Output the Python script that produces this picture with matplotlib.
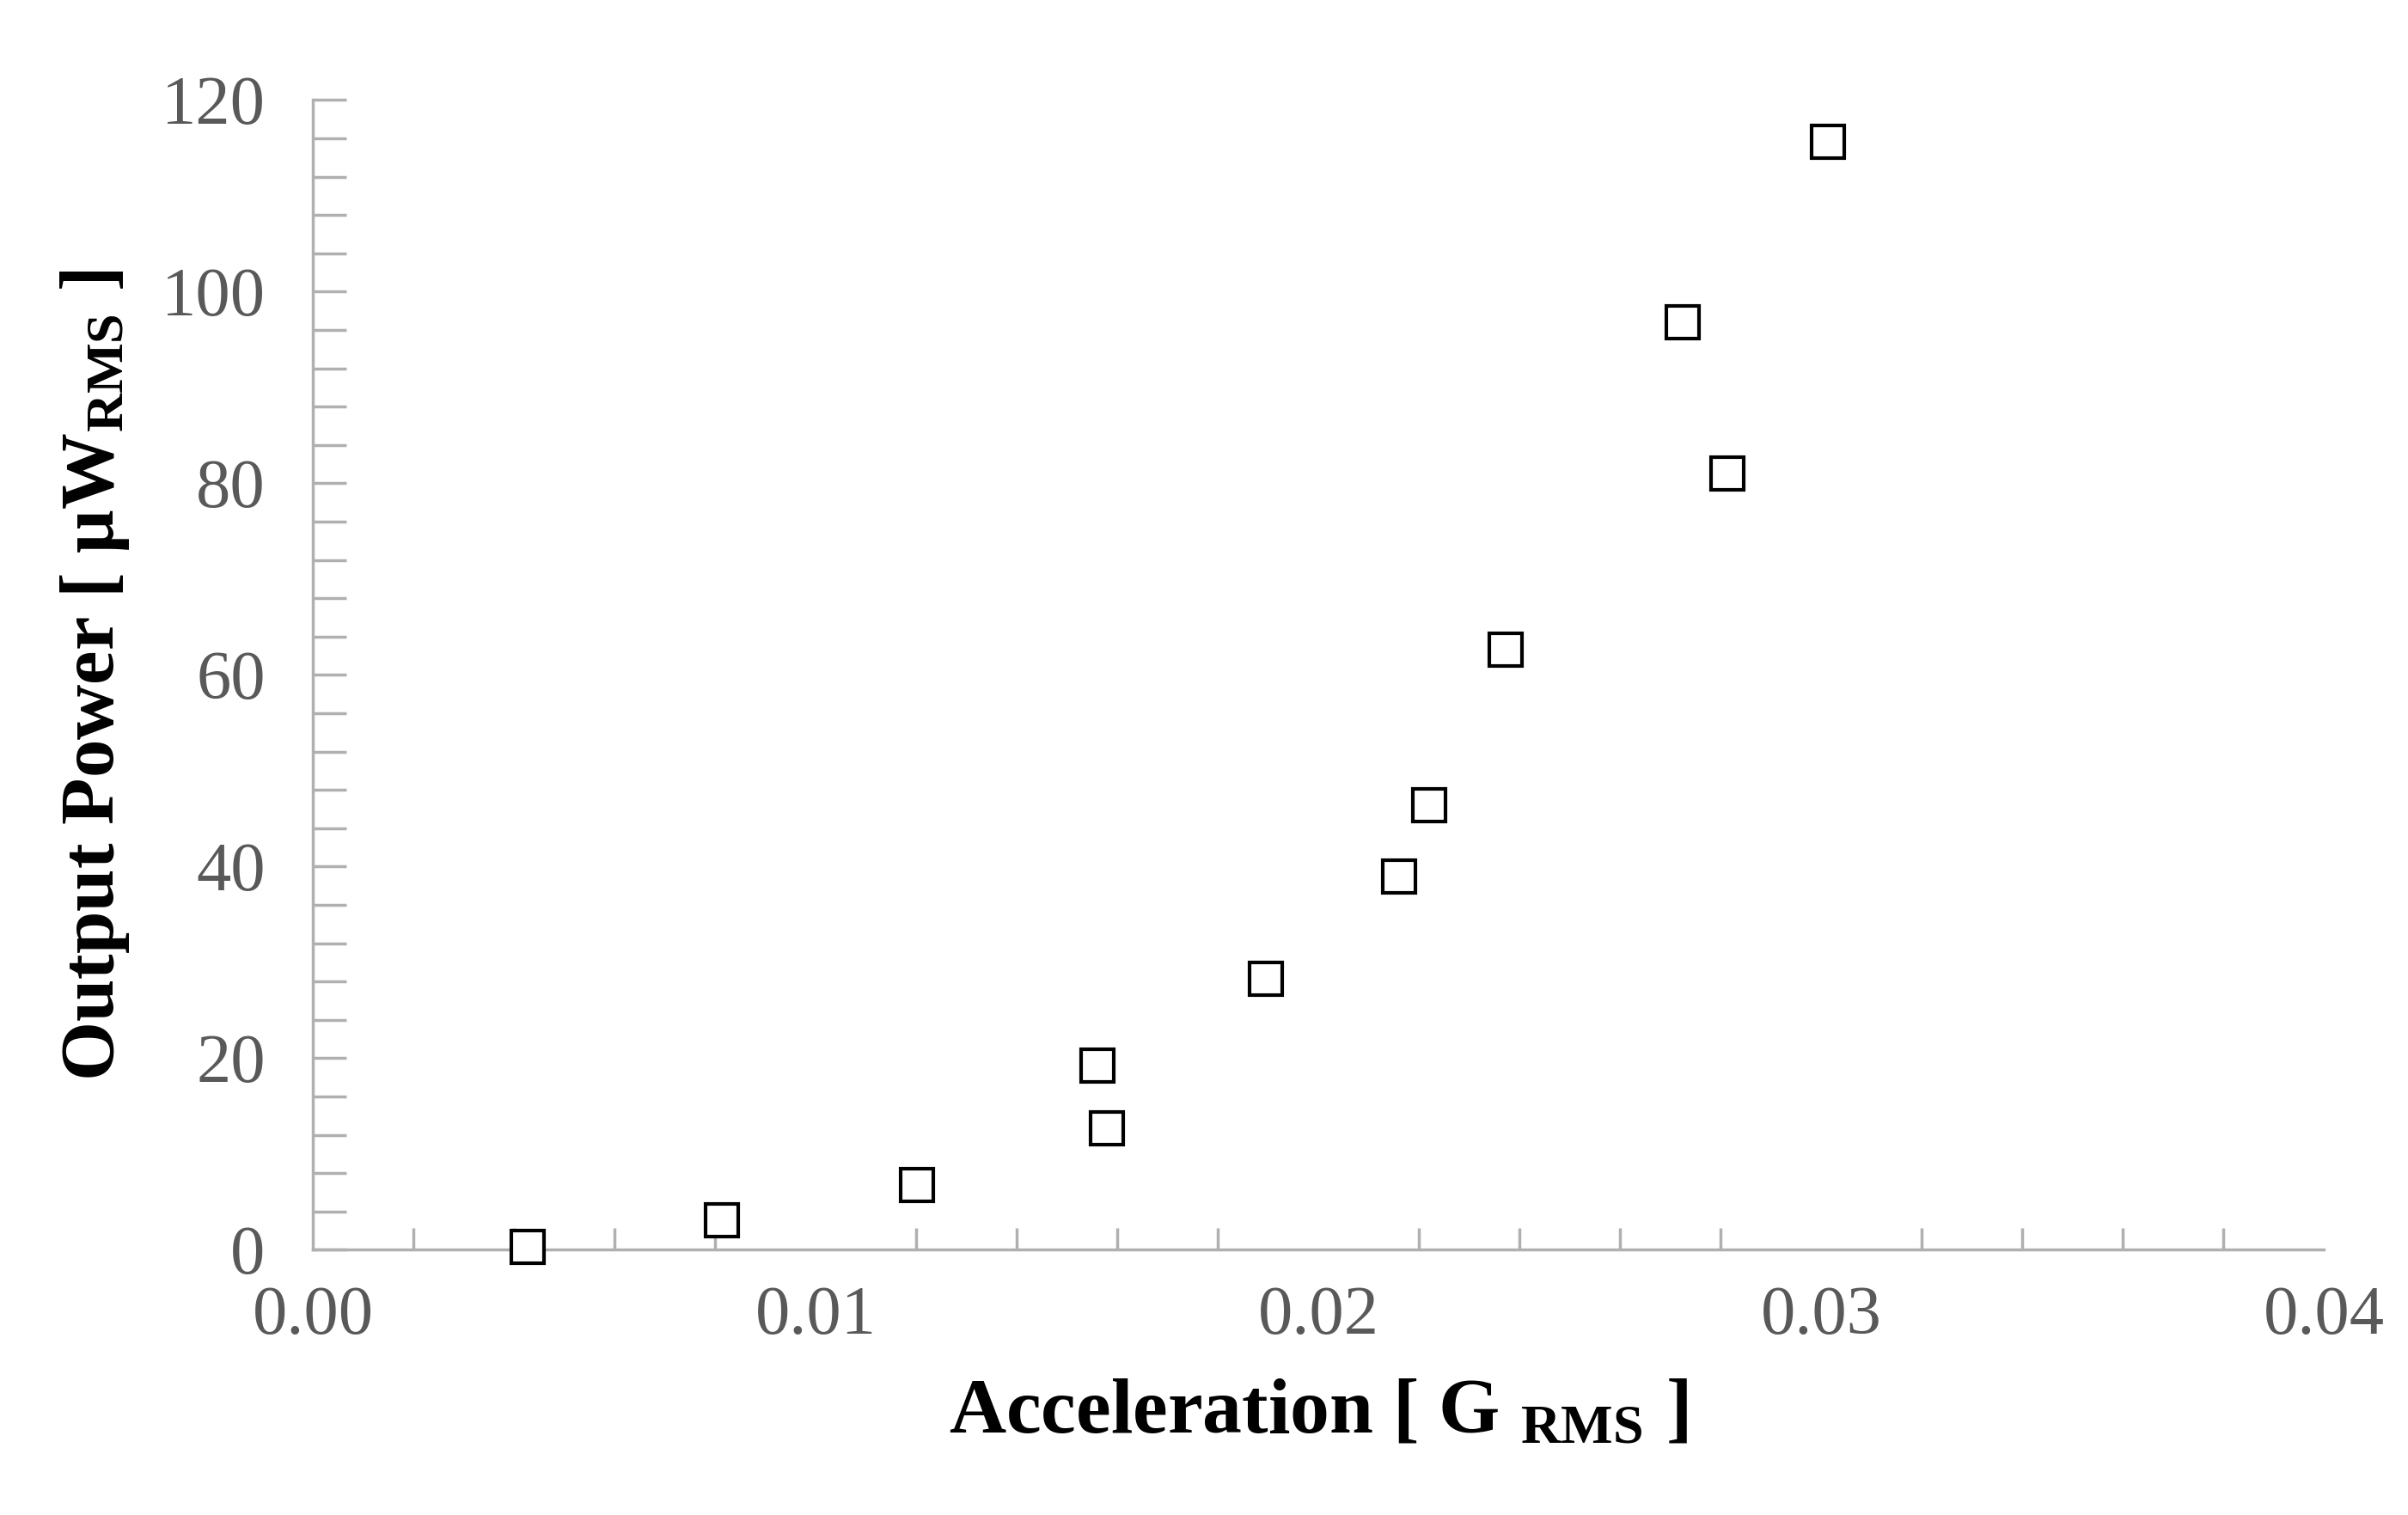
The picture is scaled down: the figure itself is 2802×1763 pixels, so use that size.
import matplotlib
matplotlib.use("Agg")
import matplotlib.pyplot as plt
from matplotlib.ticker import MultipleLocator

accel = [0.00427, 0.00814, 0.01201, 0.01561, 0.01579, 0.01896, 0.0216, 0.02221, 0.02372, 0.02725, 0.02814, 0.03014]
power = [0.3, 3.1, 6.8, 19.2, 12.7, 28.3, 39.0, 46.4, 62.6, 96.8, 81.0, 115.6]
xticks = [0.00, 0.01, 0.02, 0.03, 0.04]
yticks = [0, 20, 40, 60, 80, 100, 120]

plt.rcParams['font.family'] = ['Liberation Serif', 'DejaVu Serif']
plt.rcParams['mathtext.fontset'] = 'stix'

fig = plt.figure(figsize=(28.02, 17.63), dpi=100)
ax = fig.add_axes([0.130, 0.175, 0.835, 0.759])
ax.plot(accel, power, linestyle='none', marker='s', markersize=27, clip_on=False,
        markerfacecolor='white', markeredgecolor='black', markeredgewidth=3, zorder=5)
ax.set_xlim(0, 0.04)
ax.set_ylim(0, 120)
ax.set_xticks(xticks)
ax.set_xticklabels([f"{v:.2f}" for v in xticks])
ax.set_yticks(yticks)
ax.xaxis.set_minor_locator(MultipleLocator(0.002))
ax.yaxis.set_minor_locator(MultipleLocator(4))
for s in ['top', 'right']:
    ax.spines[s].set_visible(False)
for s in ['left', 'bottom']:
    ax.spines[s].set_color('#b0b0b0')
    ax.spines[s].set_linewidth(2.5)
ax.tick_params(axis='x', which='both', direction='in', color='#b0b0b0', width=2.5, labelsize=58, labelcolor='#595959', pad=30)
ax.tick_params(axis='x', which='major', length=0)
ax.tick_params(axis='x', which='minor', length=18)
ax.tick_params(axis='y', which='both', direction='in', color='#b0b0b0', width=2.5, labelsize=58, labelcolor='#595959', pad=40)
ax.tick_params(axis='y', which='major', length=28)
ax.tick_params(axis='y', which='minor', length=28)
ax.set_xlabel(r'Acceleration [ G $_{\mathregular{RMS}}$ ]', fontsize=66, fontweight='bold', labelpad=25)
ax.set_ylabel(r'Output Power [ μW$_{\mathregular{RMS}}$ ]', fontsize=64, fontweight='bold', labelpad=25)
fig.savefig('out.png', dpi=100)
